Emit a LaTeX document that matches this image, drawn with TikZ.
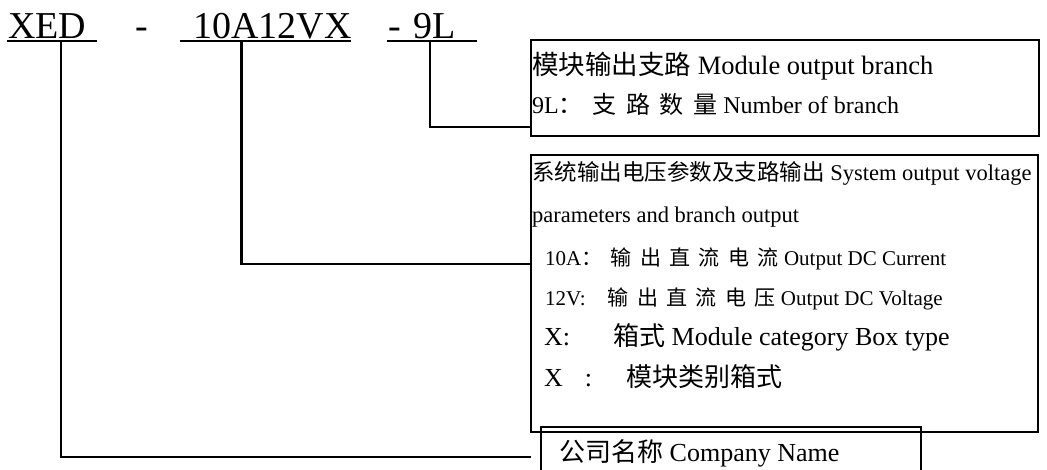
\documentclass[tikz,border=0pt]{standalone}
\usepackage{fontspec}
\setmainfont{Liberation Serif}
\newfontfamily\zhfont{Noto Sans CJK SC}
\newfontfamily\zhwide{Noto Sans CJK SC}[LetterSpace=40]
\newcommand{\zh}[1]{{\zhfont #1}}
\newcommand{\zhw}[1]{{\zhwide #1}}
\usetikzlibrary{calc}

\begin{document}
\begin{tikzpicture}[x=1pt,y=-1pt,
  boxed/.style={draw,line width=1.2pt,inner sep=0pt,outer sep=0pt,anchor=north west},
  txt/.style={anchor=base west,inner sep=0pt},
  lead/.style={line width=2.4pt},
  uline/.style={line width=2pt}]
\clip (0,0) rectangle (1047,469);
\node[txt,font=\fontsize{38}{40}\selectfont] (xed) at (8,38) {XED};
\node[txt,font=\fontsize{38}{40}\selectfont] (dashA) at (135,38) {-};
\node[txt,font=\fontsize{38}{40}\selectfont] (volt) at (193,38) {10A12VX};
\node[txt,font=\fontsize{38}{40}\selectfont] (branch) at (388,38) {-\,\,9L};
\draw[uline] (7,41) -- (97,41);
\draw[uline] (180,41) -- (351,41);
\draw[uline] (387,41) -- (477,41);
\coordinate (xedtap) at (61,41);
\coordinate (volttap) at (241.5,41);
\coordinate (branchtap) at (430,41);
\node[boxed,minimum width=508pt,minimum height=96pt] (branchbox) at (531,40) {};
\node[boxed,minimum width=507pt,minimum height=277pt] (sysbox) at (531,155) {};
\node[boxed,minimum width=380pt,minimum height=60pt] (company) at (541,427) {};
\node[txt,font=\fontsize{26.5}{30}\selectfont] (branchA) at (532,74) {\zh{模块输出支路} Module output branch};
\node[txt,font=\fontsize{24}{28}\selectfont] (branchB) at (532,113) {9L\zhw{：支路数量} Number of branch};
\node[txt,font=\fontsize{22.5}{26}\selectfont] (sysA) at (532,180) {\zh{系统输出电压参数及支路输出} System output voltage};
\node[txt,font=\fontsize{22.5}{26}\selectfont] (sysB) at (532,222) {parameters and branch output};
\node[txt,font=\fontsize{21}{24}\selectfont] (sysC) at (545,265) {10A\zhw{：输出直流电流} Output DC Current};
\node[txt,font=\fontsize{21}{24}\selectfont] (sysD) at (545,305) {12V:\hspace{22pt}\zhw{输出直流电压} Output DC Voltage};
\node[txt,font=\fontsize{26}{30}\selectfont] (sysE) at (544,345) {X:\hspace{43pt}\zh{箱式} Module category Box type};
\node[txt,font=\fontsize{26}{30}\selectfont] (sysF) at (544,386) {X\hspace{22pt}:\hspace{34pt}\zh{模块类别箱式}};
\node[txt,font=\fontsize{26}{30}\selectfont] (companyA) at (559,461) {\zh{公司名称} Company Name};
\draw[lead] (branchtap) |- (branchbox.west |- 0,127);
\draw[lead] (volttap) |- (sysbox.west |- 0,264);
\draw[lead] (xedtap) |- (company.west -| sysbox.west);
\end{tikzpicture}
\end{document}
